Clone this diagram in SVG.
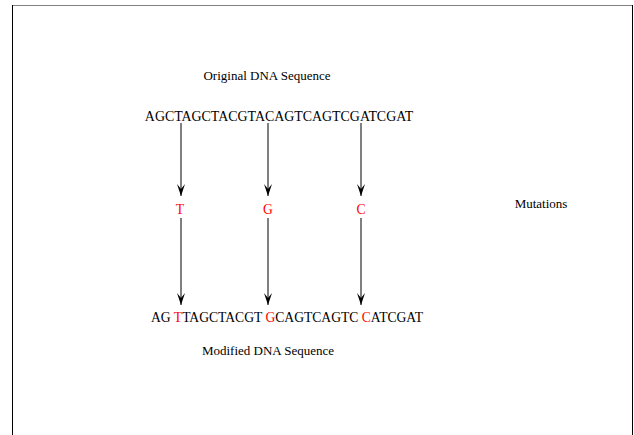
<svg xmlns="http://www.w3.org/2000/svg" width="634" height="435" viewBox="0 0 634 435">
<defs>
<marker id="ah" markerWidth="12" markerHeight="8" refX="12" refY="4" orient="auto" markerUnits="userSpaceOnUse" viewBox="0 0 12 8">
<path d="M0,0 L12,4 L0,8 L5,4 Z" fill="#000"/>
</marker>
<style>
text{font-family:"Liberation Serif","Times New Roman",serif;font-size:13.6px;fill:#000}
.s{font-size:13px}
.r{fill:#ff0000}
.e{stroke:#000;stroke-width:1;fill:none;marker-end:url(#ah)}
</style>
</defs>
<rect width="634" height="435" fill="#fff"/>
<line x1="12" y1="5.5" x2="633" y2="5.5" stroke="#808080" stroke-width="1"/>
<line x1="12.5" y1="5" x2="12.5" y2="435" stroke="#000" stroke-width="1"/>
<line x1="632.5" y1="5" x2="632.5" y2="435" stroke="#000" stroke-width="1"/>
<g id="original-title"><text class="s" x="267" y="80" text-anchor="middle">Original DNA Sequence</text></g>
<g id="original"><text x="279" y="121" text-anchor="middle" style="font-size:13.9px">AGCTAGCTACGTACAGTCAGTCGATCGAT</text></g>
<g id="mutT"><text class="r" x="180" y="214" text-anchor="middle">T</text></g>
<g id="mutG"><text class="r" x="268" y="214" text-anchor="middle">G</text></g>
<g id="mutC"><text class="r" x="361" y="214" text-anchor="middle">C</text></g>
<g id="mutations"><text class="s" x="541" y="208" text-anchor="middle">Mutations</text></g>
<g id="modified"><text x="287" y="322" text-anchor="middle">AG <tspan class="r">T</tspan>TAGCTACGT <tspan class="r">G</tspan>CAGTCAGTC <tspan class="r">C</tspan>ATCGAT</text></g>
<g id="modified-title"><text class="s" x="268" y="355" text-anchor="middle">Modified DNA Sequence</text></g>
<g id="connectors">
<line class="e" x1="181" y1="123" x2="181" y2="196"/>
<line class="e" x1="268" y1="123" x2="268" y2="196"/>
<line class="e" x1="361" y1="123" x2="361" y2="196"/>
<line class="e" x1="181" y1="218" x2="181" y2="305"/>
<line class="e" x1="268" y1="218" x2="268" y2="305"/>
<line class="e" x1="361" y1="218" x2="361" y2="305"/>
</g>
</svg>
